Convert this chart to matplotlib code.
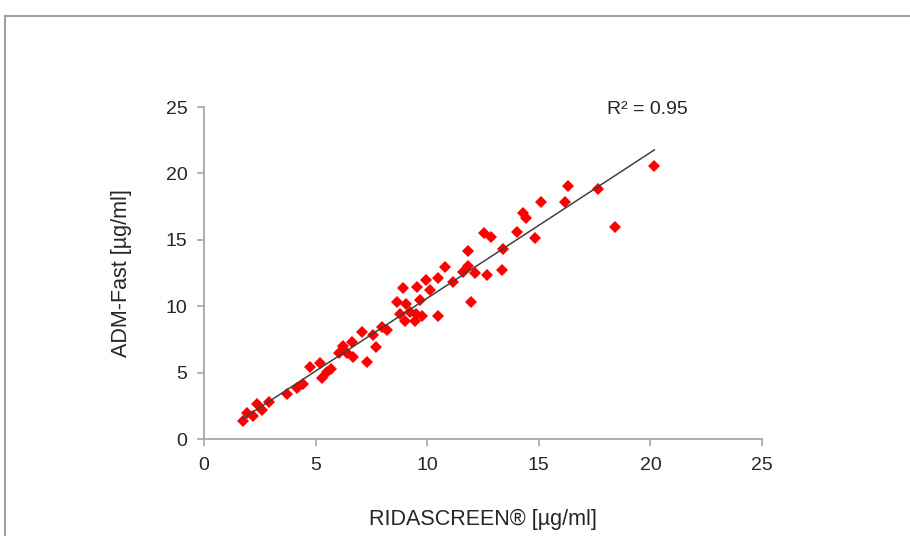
import matplotlib

matplotlib.use("Agg")
import matplotlib.pyplot as plt
from matplotlib.lines import Line2D
import numpy as np

# RIDASCREEN (x) vs ADM-Fast (y), both in ug/ml
ridascreen = [
    1.75, 1.93, 2.20, 2.38, 2.60, 2.91, 3.72, 4.17, 4.44, 4.75,
    5.20, 5.29, 5.52, 5.70, 6.05, 6.23, 6.41, 6.64, 6.68, 7.09,
    7.31, 7.58, 7.71, 7.98, 8.21, 8.65, 8.79, 9.01, 8.92, 9.06,
    9.24, 9.51, 9.46, 9.78, 9.55, 9.69, 9.96, 10.13, 10.49, 10.49,
    10.81, 11.17, 11.61, 11.84, 11.84, 12.15, 11.97, 12.56, 12.87, 12.69,
    13.36, 13.41, 14.04, 14.30, 14.44, 14.84, 15.11, 16.19, 16.32, 17.67,
    18.43, 20.18,
]
adm_fast = [
    1.36, 1.96, 1.73, 2.64, 2.18, 2.79, 3.39, 3.84, 4.14, 5.42,
    5.72, 4.59, 5.05, 5.27, 6.48, 7.00, 6.48, 7.30, 6.17, 8.06,
    5.80, 7.83, 6.93, 8.43, 8.21, 10.32, 9.41, 8.89, 11.37, 10.17,
    9.56, 9.41, 8.89, 9.26, 11.45, 10.47, 11.97, 11.22, 12.12, 9.26,
    12.95, 11.82, 12.58, 14.16, 13.03, 12.50, 10.32, 15.51, 15.21, 12.35,
    12.73, 14.31, 15.59, 17.02, 16.64, 15.14, 17.85, 17.85, 19.05, 18.83,
    15.96, 20.56,
]
ticks = [0, 5, 10, 15, 20, 25]
r2_label = "R\u00b2 = 0.95"

plt.rcParams["font.family"] = ["Liberation Sans", "DejaVu Sans"]

x = np.array(ridascreen)
y = np.array(adm_fast)
slope, intercept = np.polyfit(x, y, 1)
line_x = np.array([x.min(), x.max()])

fig = plt.figure(figsize=(9.1, 5.36), dpi=100)
ax = fig.add_axes([204 / 910, 97 / 536, 558 / 910, 332 / 536])

ax.plot(x, y, linestyle="none", marker="D", markersize=6.2, color="#ff0000", markeredgewidth=0)
ax.plot(line_x, slope * line_x + intercept, color="#404040", linewidth=1.1)

ax.set_xlim(0, 25)
ax.set_ylim(0, 25)
ax.set_xticks(ticks)
ax.set_yticks(ticks)
for side in ["top", "right"]:
    ax.spines[side].set_visible(False)
for side in ["left", "bottom"]:
    ax.spines[side].set_color("#a6a6a6")
    ax.spines[side].set_linewidth(1.3)
ax.tick_params(colors="#a6a6a6", labelcolor="#262626", labelsize=14, length=5, width=1.2)
ax.tick_params(axis="x", pad=8)
ax.tick_params(axis="y", pad=7)

ax.set_xlabel("RIDASCREEN\u00ae [\u00b5g/ml]", fontsize=15.5, color="#262626", labelpad=25)
ax.set_ylabel("ADM-Fast [\u00b5g/ml]", fontsize=15.5, color="#262626", labelpad=24)
ax.text(18.07, 24.8, r2_label, fontsize=14, color="#262626", ha="left", va="center")

# outer frame (only top and left edges are visible in the crop)
fig.add_artist(Line2D([5 / 910, 1], [1 - 16 / 536, 1 - 16 / 536], color="#a0a0a0", linewidth=1.5))
fig.add_artist(Line2D([5 / 910, 5 / 910], [0, 1 - 16 / 536], color="#a0a0a0", linewidth=1.5))

fig.savefig("out.png", dpi=100)
